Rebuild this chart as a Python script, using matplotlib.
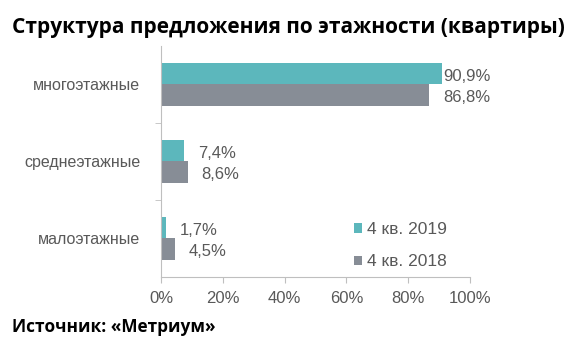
import matplotlib.pyplot as plt
import numpy as np

categories = ["многоэтажные", "среднеэтажные", "малоэтажные"]
values_2019 = [90.9, 7.4, 1.7]
values_2018 = [86.8, 8.6, 4.5]
labels_2019 = ["90,9%", "7,4%", "1,7%"]
labels_2018 = ["86,8%", "8,6%", "4,5%"]
series_names = ["4 кв. 2019", "4 кв. 2018"]
xticks = [0, 20, 40, 60, 80, 100]

teal = "#5cb7bc"
gray = "#878d96"
text_gray = "#595959"
font = "Liberation Sans"

fig = plt.figure(figsize=(5.82, 3.54), dpi=100)
ax = fig.add_axes([161 / 582, 1 - 277 / 354, 309 / 582, 231 / 354])

y = np.arange(len(categories))
h = 0.28
ax.barh(y - h / 2, values_2019, height=h, color=teal, label=series_names[0])
ax.barh(y + h / 2, values_2018, height=h, color=gray, label=series_names[1])

for i in range(len(categories)):
    ax.text(min(values_2019[i] + 4.5, 91.5), y[i] - h / 2 + 0.03, labels_2019[i],
            va="center", ha="left", fontsize=12, color=text_gray, family=font)
    ax.text(min(values_2018[i] + 4.5, 91.5), y[i] + h / 2 + 0.03, labels_2018[i],
            va="center", ha="left", fontsize=12, color=text_gray, family=font)

ax.set_ylim(2.5, -0.5)
ax.set_xlim(0, 100)
ax.set_yticks(y)
ax.set_yticklabels(categories, fontsize=11.5, color=text_gray, family=font)
ax.set_yticks([0.5, 1.5], minor=True)
ax.tick_params(axis="y", which="major", length=0, pad=15)
ax.tick_params(axis="y", which="minor", length=4, color="#bfbfbf")
ax.set_xticks(xticks)
ax.set_xticklabels([f"{t}%" for t in xticks], fontsize=12, color=text_gray, family=font)
ax.tick_params(axis="x", length=4, color="#bfbfbf", pad=6)
for s in ["top", "right"]:
    ax.spines[s].set_visible(False)
ax.spines["left"].set_color("#bfbfbf")
ax.spines["bottom"].set_color("#bfbfbf")

ax.legend(loc="lower left", bbox_to_anchor=(0.575, -0.035), frameon=False,
          prop={"family": font, "size": 12.5},
          handlelength=0.45, handleheight=0.45, handletextpad=0.3, labelspacing=1.0,
          labelcolor=text_gray)

fig.text(12 / 582, 1 - 27 / 354, "Структура предложения по этажности (квартиры)",
         fontsize=15, fontweight="bold", family="Open Sans", va="center", ha="left")
fig.text(12 / 582, 1 - 327 / 354, "Источник: «Метриум»",
         fontsize=12.4, fontweight="bold", family="Open Sans", va="center", ha="left")

fig.savefig("out.png", dpi=100)
